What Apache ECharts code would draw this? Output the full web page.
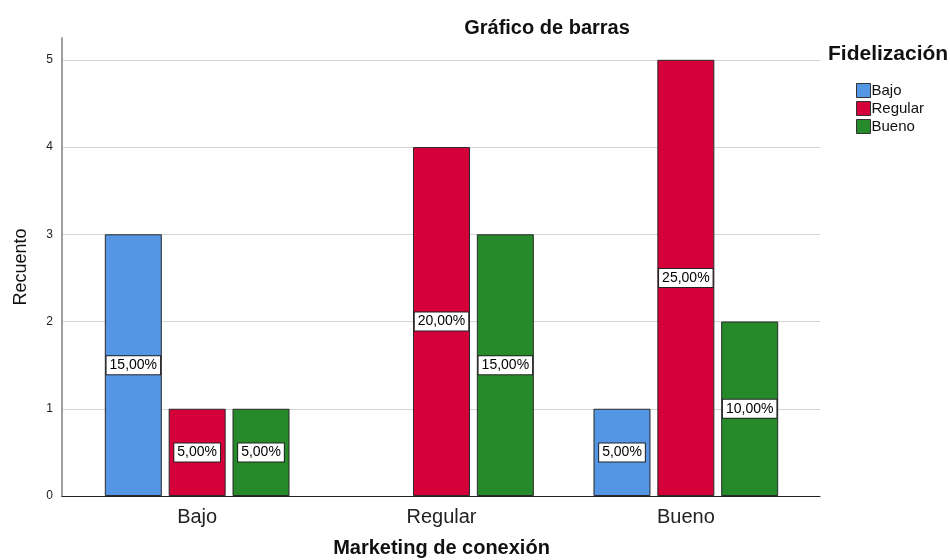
<!DOCTYPE html>
<html>
<head>
<meta charset="utf-8">
<script src="https://cdn.jsdelivr.net/npm/echarts@6/dist/echarts.min.js"></script>
<style>
  html, body { margin: 0; padding: 0; background: #fff; }
  #main { width: 950px; height: 560px; }
</style>
</head>
<body>
<div id="main"></div>
<script>
// categories (x axis) and series
const categories = ['Bajo', 'Regular', 'Bueno']
const seriesNames = ['Bajo', 'Regular', 'Bueno']
const bajoCounts = [3, null, 1]
const regularCounts = [1, 4, 5]
const buenoCounts = [1, 3, 2]
const bajoPct = ['15,00%', '', '5,00%']
const regularPct = ['5,00%', '20,00%', '25,00%']
const buenoPct = ['5,00%', '15,00%', '10,00%']
const yTicks = [0, 1, 2, 3, 4, 5]
const colors = ['#5596E4', '#D5003A', '#268A2B']

const font = 'Liberation Sans, Arial, sans-serif'

const labelOption = (pct) => ({
    show: true,
    position: 'inside',
    formatter: p => pct[p.dataIndex],
    color: '#000',
    fontFamily: font,
    fontSize: 14,
    lineHeight: 15,
    backgroundColor: '#fff',
    borderColor: '#222',
    borderWidth: 1,
    padding: [2, 3, 1, 3]
})

const makeSeries = (name, data, pct, color) => ({
    name: name,
    type: 'bar',
    xAxisIndex: 0,
    yAxisIndex: 0,
    data: data,
    barWidth: 57,
    barGap: '12%',
    itemStyle: { color: color, borderColor: '#2a2a2a', borderWidth: 1 },
    label: labelOption(pct),
    emphasis: { disabled: true }
})

// split line colours: one per tick, last (top of axis) hidden
const splitColors = yTicks.map(() => '#d4d4d4').concat(['rgba(0,0,0,0)'])

const chart = echarts.init(document.getElementById('main'))
chart.setOption({
    animation: false,
    textStyle: { fontFamily: font },
    title: {
        text: 'Gráfico de barras',
        left: 542,
        top: 13,
        textAlign: 'center',
        textStyle: { fontFamily: font, fontSize: 20, fontWeight: 'bold', color: '#111' }
    },
    legend: {
        orient: 'vertical',
        left: 851,
        top: 78,
        itemWidth: 14,
        itemHeight: 14,
        itemGap: 3,
        icon: 'rect',
        data: seriesNames,
        textStyle: { fontFamily: font, fontSize: 15, color: '#111', padding: [0, 0, 0, -4] },
        itemStyle: { borderColor: '#333', borderWidth: 1 }
    },
    graphic: [{
        type: 'text',
        left: 828,
        top: 44,
        style: { text: 'Fidelización', font: 'bold 21px ' + font, fill: '#111' }
    }],
    grid: [
        { left: 75, right: 142, top: 38, bottom: 64, outerBoundsMode: 'none' },
        { left: 62, right: 130, top: 38, bottom: 64, outerBoundsMode: 'none' }
    ],
    xAxis: [{
        type: 'category',
        gridIndex: 0,
        data: categories,
        name: 'Marketing de conexión',
        nameLocation: 'middle',
        nameGap: 42,
        nameTextStyle: { fontFamily: font, fontSize: 20, fontWeight: 'bold', color: '#111' },
        axisLine: { show: false },
        axisTick: { show: false },
        axisLabel: { fontFamily: font, fontSize: 20, color: '#222', margin: 11 }
    }, {
        type: 'value',
        gridIndex: 1,
        min: 0,
        max: 1,
        axisLine: { show: true, onZero: false, lineStyle: { color: '#222', width: 1 } },
        axisTick: { show: false },
        axisLabel: { show: false },
        splitLine: { show: false }
    }],
    yAxis: [{
        type: 'value',
        gridIndex: 0,
        min: 0,
        max: 5.25,
        interval: 1,
        show: false,
        splitLine: { show: false }
    }, {
        type: 'value',
        gridIndex: 1,
        min: 0,
        max: 5.25,
        interval: 1,
        name: 'Recuento',
        nameLocation: 'middle',
        nameGap: 32,
        nameTextStyle: { fontFamily: font, fontSize: 18, color: '#111' },
        axisLine: { show: true, lineStyle: { color: '#a0a0a0', width: 2 } },
        axisTick: { show: false },
        axisLabel: {
            fontFamily: font, fontSize: 12, color: '#222', margin: 9,
            formatter: v => (yTicks.includes(v) ? String(v) : '')
        },
        splitLine: { lineStyle: { color: splitColors, width: 1 } }
    }],
    series: [
        makeSeries(seriesNames[0], bajoCounts, bajoPct, colors[0]),
        makeSeries(seriesNames[1], regularCounts, regularPct, colors[1]),
        makeSeries(seriesNames[2], buenoCounts, buenoPct, colors[2])
    ]
})
</script>
</body>
</html>
